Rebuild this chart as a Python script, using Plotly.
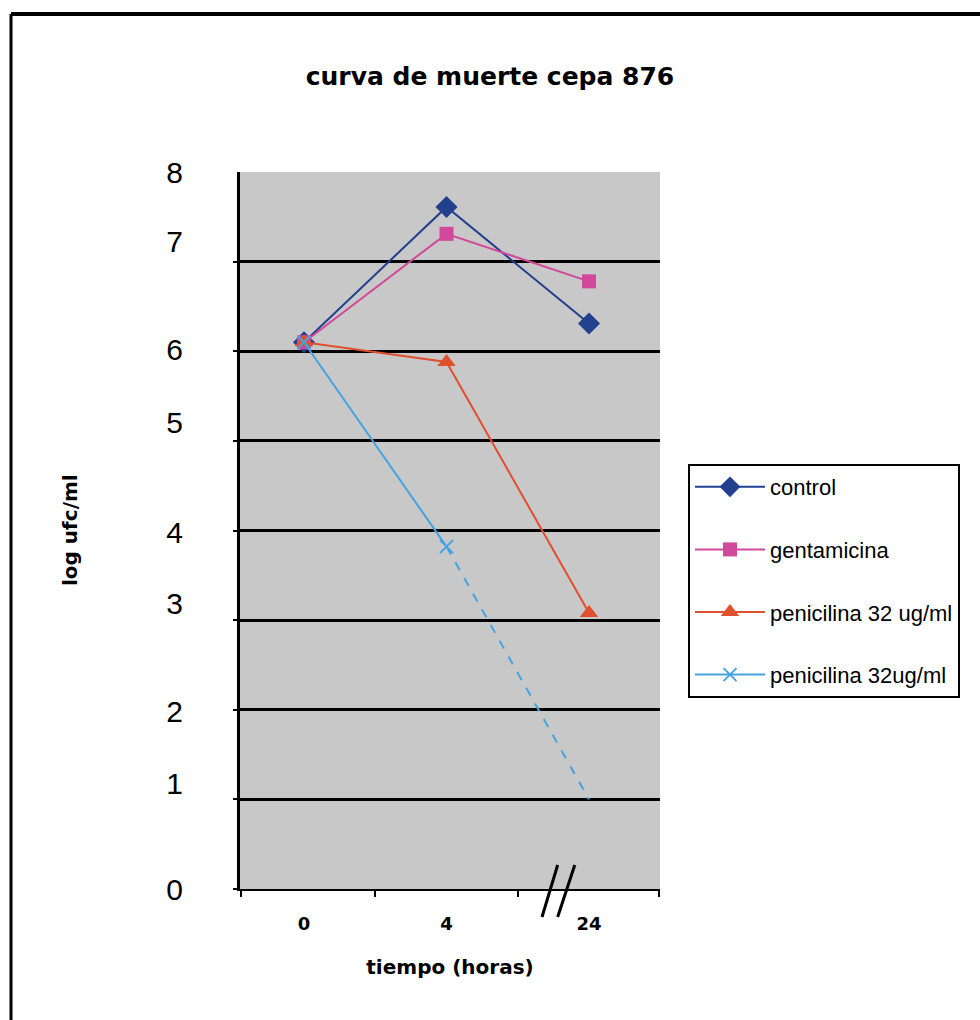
import plotly.graph_objects as go

# Sampling times (hours) and their positions on the category axis
times = ["0", "4", "24"]
time_pos = [0, 1, 2]

# log ufc/ml for each treatment
control = [6.10, 7.61, 6.31]
gentamicina = [6.10, 7.31, 6.78]
penicilina_32 = [6.10, 5.88, 3.08]
penicilina_32b = [6.10, 3.82, 1.00]

# y tick labels and where they are printed
ytick_text = ["0", "1", "2", "3", "4", "5", "6", "7", "8"]
ytick_vals = [0, 1.18, 1.98, 3.18, 3.98, 5.21, 6.02, 7.23, 8.0]
grid_vals = [0, 1, 2, 3, 4, 5, 6, 7]

NAVY = "#23408f"
PINK = "#d2489a"
RED = "#e0502e"
SKY = "#45a3e0"

fig = go.Figure()

fig.add_trace(go.Scatter(
    x=time_pos, y=control, name="control", mode="lines+markers",
    line=dict(color=NAVY, width=2),
    marker=dict(symbol="diamond", size=17, color=NAVY),
    legendgroup="a"))
fig.add_trace(go.Scatter(
    x=time_pos, y=gentamicina, name="gentamicina", mode="lines+markers",
    line=dict(color=PINK, width=2),
    marker=dict(symbol="square", size=14, color=PINK),
    legendgroup="b"))
fig.add_trace(go.Scatter(
    x=time_pos, y=penicilina_32, name="penicilina 32 ug/ml", mode="lines+markers",
    line=dict(color=RED, width=2),
    marker=dict(symbol="triangle-up", size=16, color=RED),
    legendgroup="c"))
# solid segment 0-4 h with markers, dashed extrapolation to 24 h
fig.add_trace(go.Scatter(
    x=time_pos[:2], y=penicilina_32b[:2], name="penicilina 32ug/ml",
    mode="lines+markers",
    line=dict(color=SKY, width=2),
    marker=dict(symbol="x-thin-open", size=13, line=dict(color=SKY, width=2)),
    legendgroup="d"))
fig.add_trace(go.Scatter(
    x=time_pos[1:], y=penicilina_32b[1:], mode="lines",
    line=dict(color=SKY, width=2, dash="dash"),
    showlegend=False, legendgroup="d"))

PL, PR, PT, PB = 240, 660, 172, 889
W, H = 980, 1020


def px_x(px):
    return (px - PL) / (PR - PL)


def px_y(py):
    return (PB - py) / (PB - PT)


shapes = [
    # outer frame (top and left edges)
    dict(type="line", xref="paper", yref="paper",
         x0=px_x(11), x1=px_x(980), y0=px_y(14), y1=px_y(14),
         line=dict(color="black", width=4)),
    dict(type="line", xref="paper", yref="paper",
         x0=px_x(11), x1=px_x(11), y0=px_y(14), y1=px_y(1020),
         line=dict(color="black", width=3)),
    # axis break marks
    dict(type="line", xref="x", yref="paper",
         x0=1.67, x1=1.78, y0=px_y(917), y1=px_y(865),
         line=dict(color="black", width=3)),
    dict(type="line", xref="x", yref="paper",
         x0=1.78, x1=1.90, y0=px_y(917), y1=px_y(865),
         line=dict(color="black", width=3)),
]

fig.update_layout(
    width=W, height=H,
    margin=dict(l=PL, r=W - PR, t=PT, b=H - PB),
    paper_bgcolor="white",
    plot_bgcolor="#c8c8c8",
    title=dict(text="curva de muerte cepa 876", x=0.5, xref="container",
               xanchor="center", y=1 - 76 / H, yref="container", yanchor="middle",
               font=dict(family="DejaVu Sans", size=25, color="black", weight="bold")),
    xaxis=dict(
        range=[-0.449, 2.498], tickvals=time_pos, ticktext=times,
        ticks="", showgrid=False, zeroline=False,
        showline=True, linecolor="black", linewidth=2,
        tickfont=dict(family="DejaVu Sans", size=18, color="black", weight="bold"),
        ticklabelstandoff=17,
        minor=dict(tickvals=[-0.44, 0.5, 1.5, 2.49], ticks="outside",
                   ticklen=6, tickwidth=2, tickcolor="black", showgrid=False),
        title=dict(text="tiempo (horas)", standoff=27,
                   font=dict(family="DejaVu Sans", size=20, color="black", weight="bold")),
    ),
    yaxis=dict(
        range=[0, 8], tickvals=ytick_vals, ticktext=ytick_text,
        ticks="", showgrid=False, zeroline=False,
        showline=True, linecolor="black", linewidth=3,
        tickfont=dict(family="Liberation Sans Narrow, Liberation Sans", size=30, color="black"),
        ticklabelstandoff=48,
        minor=dict(tickvals=grid_vals, ticks="outside", ticklen=4, tickwidth=2,
                   tickcolor="black", showgrid=True, gridcolor="black", gridwidth=3),
    ),
    annotations=[dict(
        text="log ufc/ml", textangle=-90, xref="paper", yref="paper",
        x=px_x(70), y=px_y(530), xanchor="center", yanchor="middle", showarrow=False,
        font=dict(family="DejaVu Sans", size=20, color="black", weight="bold"))],
    legend=dict(
        x=px_x(688), y=px_y(464), xanchor="left", yanchor="top",
        bgcolor="white", bordercolor="black", borderwidth=2,
        font=dict(family="Liberation Sans", size=22, color="black"),
        traceorder="grouped", tracegroupgap=31, itemwidth=70,
    ),
    shapes=shapes,
)

fig.write_html("out.html")
